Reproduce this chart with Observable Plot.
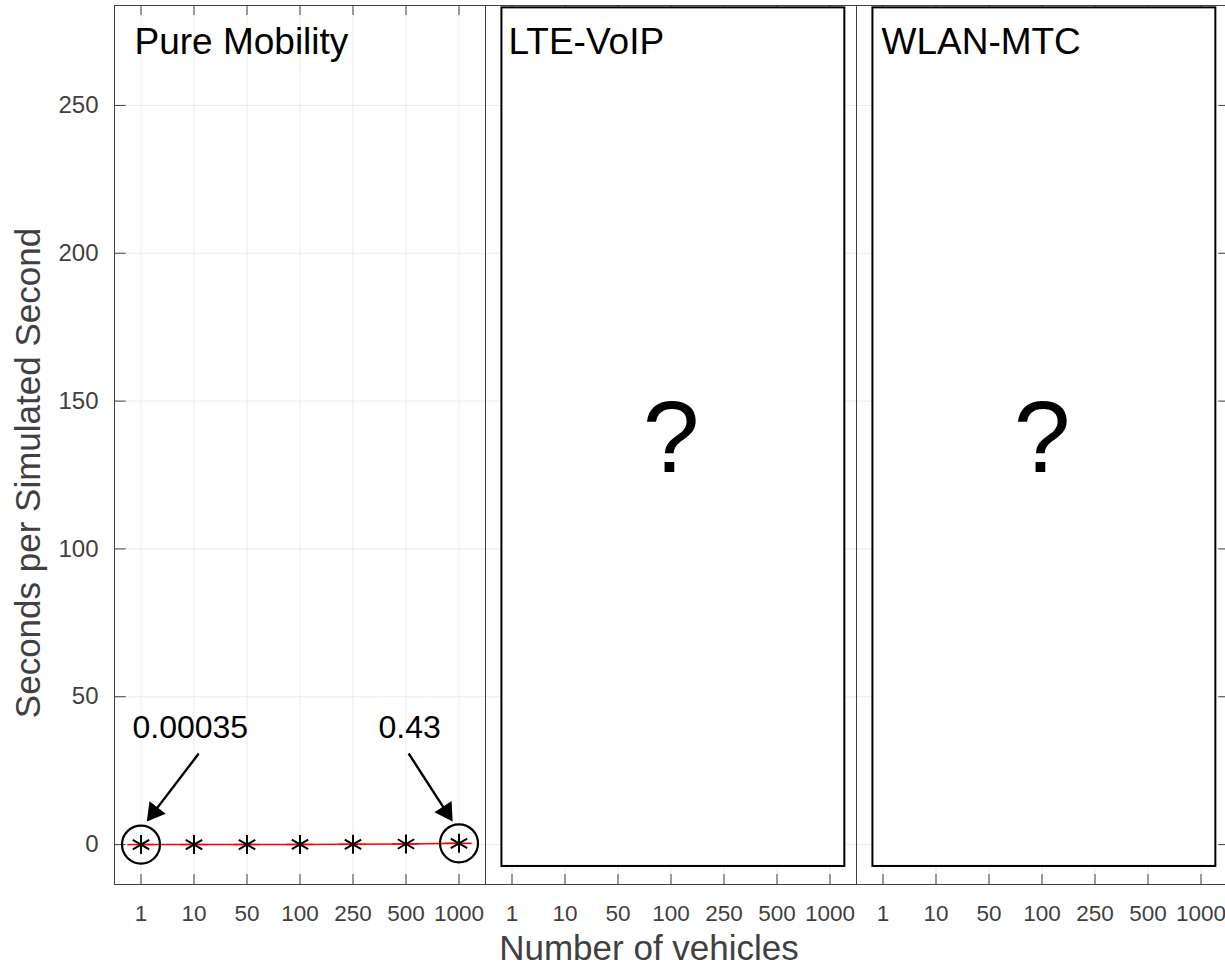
<!DOCTYPE html>
<html>
<head>
<meta charset="utf-8">
<script src="https://cdn.jsdelivr.net/npm/d3@7"></script>
<script src="https://cdn.jsdelivr.net/npm/@observablehq/plot@0.6"></script>
<style>
  html, body { margin: 0; padding: 0; background: white; }
</style>
</head>
<body>
<div id="chart"></div>
<script>
// ---- data ----
const panels = ["Pure Mobility", "LTE-VoIP", "WLAN-MTC"];
const vehicles = ["1", "10", "50", "100", "250", "500", "1000"];
const pureMobilitySeconds = [0.00035, 0.004, 0.02, 0.04, 0.1, 0.2, 0.43];
const yTicks = [0, 50, 100, 150, 200, 250];
const annotationLabels = ["0.00035", "0.43"];
const unknownPanels = ["LTE-VoIP", "WLAN-MTC"];

const idx = d3.range(vehicles.length);
const rows = vehicles.map((v, i) => ({panel: panels[0], i, v, value: pureMobilitySeconds[i]}));
const highlighted = [rows[0], rows[rows.length - 1]];

const W = 1225, H = 966, mt = 5, mb = 82, ml = 113, mr = -2;
const xDomain = [-0.5, 6.5], yDomain = [-13.5, 283.8];
const frameH = H - mt - mb;
const facetW = (W - ml - mr) / panels.length;
const pxX = facetW / (xDomain[1] - xDomain[0]);
const pxY = frameH / (yDomain[1] - yDomain[0]);
const axisColor = "#404040";
const gridColor = "#ebebeb";

// annotation arrows (start near label, tip near circle), with filled heads
const headR = 7.6;
const headTip = 2 * Math.sqrt(Math.PI * headR * headR / (3 * Math.sqrt(3))); // centroid→tip, px
const annotations = [
  {panel: panels[0], label: annotationLabels[0], tx: 0.93, ty: 39.5, x1: 1.09, y1: 30.8, x2: 0.11, y2: 7.8},
  {panel: panels[0], label: annotationLabels[1], tx: 5.07, ty: 39.5, x1: 5.05, y1: 30.8, x2: 5.88, y2: 7.8}
].map(a => {
  const dxp = (a.x2 - a.x1) * pxX, dyp = -(a.y2 - a.y1) * pxY;
  const len = Math.hypot(dxp, dyp);
  const ux = dxp / len, uy = dyp / len;
  return {
    ...a,
    hx: a.x2 - headTip * ux / pxX,
    hy: a.y2 + headTip * uy / pxY,
    rot: Math.atan2(ux, -uy) * 180 / Math.PI
  };
});
const boxes = unknownPanels.map(p => ({panel: p, x1: -0.19, x2: 6.28, y1: -7.4, y2: 283}));
const titleOffsetPx = [20, 23, 25];
const titles = panels.map((p, k) => ({panel: p, x: xDomain[0] + titleOffsetPx[k] / pxX}));

const chart = Plot.plot({
  width: W,
  height: H,
  marginTop: mt,
  marginBottom: mb,
  marginLeft: ml,
  marginRight: mr,
  style: {fontFamily: "'Liberation Sans', Arial, sans-serif", background: "white", color: axisColor},
  x: {type: "linear", domain: xDomain},
  y: {domain: yDomain},
  fx: {domain: panels, padding: 0, axis: null, label: null},
  marks: [
    Plot.gridX(idx, {stroke: gridColor, strokeOpacity: 1}),
    Plot.gridY(yTicks, {stroke: gridColor, strokeOpacity: 1}),
    // inward ticks top and bottom
    Plot.ruleX(idx, {x: d => d, insetBottom: frameH - 10, stroke: axisColor}),
    Plot.ruleX(idx, {x: d => d, insetTop: frameH - 10, stroke: axisColor}),
    // inward y ticks left and right
    Plot.ruleY(yTicks, {y: d => d, fx: () => panels[0], insetRight: facetW - 12, stroke: axisColor}),
    Plot.ruleY(yTicks, {y: d => d, fx: () => panels[2], insetLeft: facetW - 9, stroke: axisColor}),
    Plot.frame({stroke: axisColor, strokeWidth: 1}),
    Plot.axisX(idx, {tickFormat: i => vehicles[i], tickSize: 0, tickPadding: 21, fontSize: 22.5, label: null, fill: axisColor}),
    Plot.axisY(yTicks, {tickSize: 0, tickPadding: 16, fontSize: 24, label: null, fill: axisColor}),
    // series
    Plot.ruleY(rows, {fx: "panel", y: "value", x1: d => d.i - 0.25, x2: d => d.i + 0.25, stroke: "red", strokeWidth: 1.5}),
    Plot.line(rows, {fx: "panel", x: "i", y: "value", stroke: "red", strokeWidth: 1.5}),
    Plot.dot(rows, {fx: "panel", x: "i", y: "value", symbol: "asterisk", r: 9, stroke: "black", strokeWidth: 2}),
    Plot.dot(highlighted, {fx: "panel", x: "i", y: "value", r: 19, stroke: "black", strokeWidth: 2.2, fill: "none"}),
    // annotations
    Plot.link(annotations, {fx: "panel", x1: "x1", y1: "y1", x2: "hx", y2: "hy", stroke: "black", strokeWidth: 2.4}),
    Plot.dot(annotations, {fx: "panel", x: "hx", y: "hy", symbol: "triangle", r: headR, rotate: "rot", fill: "black", stroke: "none"}),
    Plot.text(annotations, {fx: "panel", x: "tx", y: "ty", text: "label", fontSize: 32, fill: "black"}),
    // unknown panels
    Plot.rect(boxes, {fx: "panel", x1: "x1", x2: "x2", y1: "y1", y2: "y2", fill: "white", stroke: "black", strokeWidth: 2}),
    Plot.text(boxes, {fx: "panel", x: 3, y: 137, text: () => "?", fontSize: 102, fill: "black"}),
    // panel titles
    Plot.text(titles, {fx: "panel", x: "x", text: "panel", frameAnchor: "top", textAnchor: "start", lineAnchor: "middle", dy: 37, fontSize: 37, fill: "black"}),
    // axis labels
    Plot.text(["Seconds per Simulated Second"], {fx: () => panels[0], text: d => d, frameAnchor: "left", textAnchor: "middle", lineAnchor: "middle", rotate: -90, dx: -86, dy: 28, fontSize: 35, fill: axisColor}),
    Plot.text(["Number of vehicles"], {fx: () => panels[1], text: d => d, frameAnchor: "bottom", textAnchor: "middle", lineAnchor: "middle", dx: -22, dy: 64, fontSize: 35, fill: axisColor})
  ]
});
document.getElementById("chart").appendChild(chart);
</script>
</body>
</html>
